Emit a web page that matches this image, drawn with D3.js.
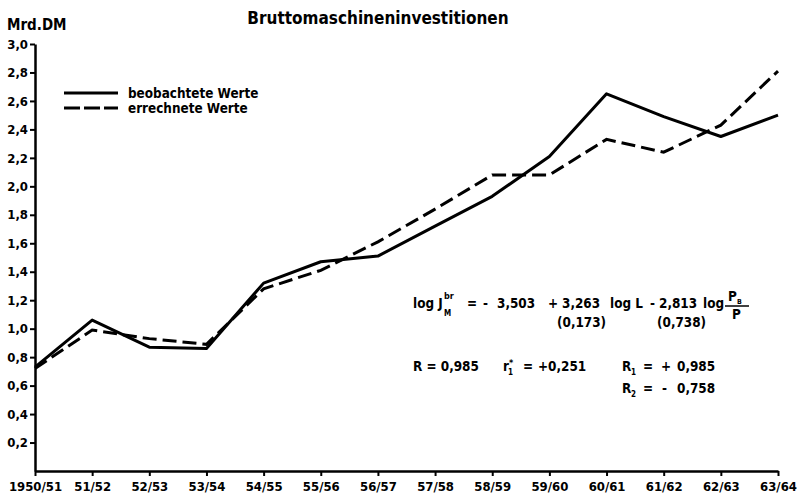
<!DOCTYPE html>
<html>
<head>
<meta charset="utf-8">
<script src="https://cdn.jsdelivr.net/npm/d3@7"></script>
<style>
  body { margin: 0; background: #fff; }
  svg text { font-family: "DejaVu Sans Condensed", "DejaVu Sans", sans-serif; font-stretch: condensed; font-weight: bold; fill: #000; }
</style>
</head>
<body>
<div id="chart"></div>
<script>
// Wirtschaftsjahre
var years = ["1950/51", "51/52", "52/53", "53/54", "54/55", "55/56", "56/57",
             "57/58", "58/59", "59/60", "60/61", "61/62", "62/63", "63/64"];
// beobachtete Werte (Mrd. DM)
var observed = [0.73, 1.06, 0.87, 0.86, 1.32, 1.47, 1.51, 1.72, 1.93, 2.21, 2.65, 2.49, 2.35, 2.50];
// errechnete Werte (Mrd. DM)
var computed = [0.72, 0.99, 0.93, 0.89, 1.28, 1.41, 1.61, 1.84, 2.08, 2.08, 2.33, 2.24, 2.43, 2.81];
var yTicks = [0.2, 0.4, 0.6, 0.8, 1.0, 1.2, 1.4, 1.6, 1.8, 2.0, 2.2, 2.4, 2.6, 2.8, 3.0];

function draw_chart(wrapper)
{
  var svg = d3.select(wrapper).append("svg")
    .attr("width", 804).attr("height", 496);

  var x = d3.scalePoint().domain(years).range([35, 778]);
  var y = d3.scaleLinear().domain([0, 3]).range([471, 44]);
  var fmt = function(d) { return d3.format(".1f")(d).replace(".", ","); };

  // title
  svg.append("text")
    .attr("x", 378).attr("y", 24)
    .attr("text-anchor", "middle")
    .attr("font-size", 17)
    .text("Bruttomaschineninvestitionen");

  svg.append("text")
    .attr("x", 7).attr("y", 30)
    .attr("font-size", 15)
    .text("Mrd.DM");

  // axes
  var yAxis = d3.axisLeft(y).tickValues(yTicks).tickFormat(fmt).tickSize(5).tickSizeOuter(0).tickPadding(2);
  var gy = svg.append("g").attr("transform", "translate(35,0)").call(yAxis);
  gy.select(".domain").attr("stroke-width", 2.5);
  gy.selectAll(".tick line").attr("stroke-width", 2);
  gy.selectAll(".tick text").attr("font-size", 13).attr("font-family", null);

  var xAxis = d3.axisBottom(x).tickSize(5).tickSizeOuter(0).tickPadding(6);
  var gx = svg.append("g").attr("transform", "translate(0,471)").call(xAxis);
  gx.select(".domain").attr("stroke-width", 2.5);
  gx.selectAll(".tick line").attr("stroke-width", 2);
  gx.selectAll(".tick text").attr("font-size", 13).attr("font-family", null);

  // lines
  var line = d3.line()
    .x(function(d, i) { return x(years[i]); })
    .y(function(d) { return y(d); });

  svg.append("path")
    .datum(computed)
    .attr("d", line)
    .attr("fill", "none")
    .attr("stroke", "#000")
    .attr("stroke-width", 3)
    .attr("stroke-dasharray", "14,6");

  svg.append("path")
    .datum(observed)
    .attr("d", line)
    .attr("fill", "none")
    .attr("stroke", "#000")
    .attr("stroke-width", 3)
    .attr("stroke-linejoin", "round");

  // legend
  var legend = svg.append("g");
  legend.append("line").attr("x1", 64).attr("x2", 118).attr("y1", 93).attr("y2", 93)
    .attr("stroke", "#000").attr("stroke-width", 3);
  legend.append("line").attr("x1", 64).attr("x2", 118).attr("y1", 108).attr("y2", 108)
    .attr("stroke", "#000").attr("stroke-width", 3).attr("stroke-dasharray", "16,4");
  legend.append("text").attr("x", 128).attr("y", 98).attr("font-size", 13.4).text("beobachtete Werte");
  legend.append("text").attr("x", 128).attr("y", 113).attr("font-size", 13.4).text("errechnete Werte");

  // regression formula, piece by piece
  var f = svg.append("g").attr("font-size", 13.4);
  function put(px, py, s, size) {
    var el = f.append("text").attr("x", px).attr("y", py).text(s);
    if (size) el.attr("font-size", size);
    return el;
  }
  put(413, 308, "log J");
  put(444, 299, "br", 9);
  put(444, 316, "M", 8);
  put(467, 308, "=");
  put(483, 308, "-");
  put(497, 308, "3,503");
  put(548, 308, "+");
  put(562, 308, "3,263");
  put(610, 308, "log L");
  put(650, 308, "-");
  put(659, 308, "2,813");
  put(703, 308, "log");
  put(728, 301, "P");
  put(737, 304, "B", 7);
  f.append("line").attr("x1", 725).attr("x2", 749).attr("y1", 306).attr("y2", 306)
    .attr("stroke", "#000").attr("stroke-width", 1.5);
  put(732, 319, "P");
  put(557, 327, "(0,173)");
  put(657, 327, "(0,738)");

  put(413, 371, "R = 0,985");
  put(503, 371, "r");
  put(508, 375, "1", 8);
  put(509, 366, "*", 9);
  put(523, 371, "=");
  put(538, 371, "+0,251");
  put(622, 371, "R");
  put(631, 375, "1", 8);
  put(643, 371, "=");
  put(661, 371, "+");
  put(677, 371, "0,985");
  put(622, 393, "R");
  put(631, 397, "2", 8);
  put(643, 393, "=");
  put(662, 393, "-");
  put(677, 393, "0,758");

  return svg.node();
}

draw_chart("#chart");
</script>
</body>
</html>
